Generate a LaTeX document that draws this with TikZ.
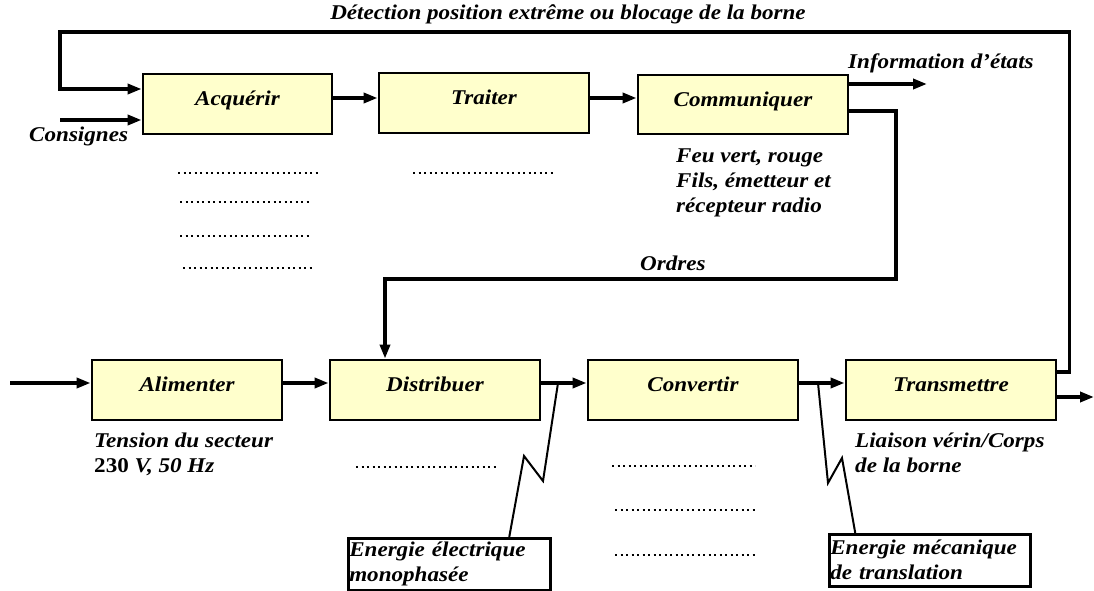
\documentclass[tikz,border=0pt]{standalone}
\usepackage{fontspec}
\setmainfont{Liberation Serif}[FakeStretch=1.1]
\usetikzlibrary{arrows.meta,calc}
\definecolor{boxfill}{HTML}{FFFFCC}
\begin{document}
\begin{tikzpicture}[x=1pt,y=-1pt,
  lbl/.style={font=\fontsize{21}{25}\selectfont\bfseries\itshape, inner sep=0pt},
  fbox/.style={draw, line width=2.8pt, fill=boxfill, minimum height=60pt,
    text height=16.5pt, text depth=13pt, inner sep=0pt,
    font=\fontsize{21}{25}\selectfont\bfseries\itshape},
  tip/.style={-{Triangle[length=14pt,width=10pt]}},
  flow/.style={line width=4pt, tip},
  link/.style={line width=3.4pt},
  zz/.style={line width=2pt},
  dots/.style={line width=2.4pt, dash pattern=on 2.2pt off 3.3pt},
  ebox/.style={draw, line width=2.5pt, fill=white, align=left, inner xsep=1pt,
    inner ysep=0pt, minimum height=52pt, anchor=north west,
    font=\fontsize{21}{25}\selectfont\bfseries\itshape}
]
\useasboundingbox (0,0) rectangle (1094,591);

% function boxes
\node[fbox, minimum width=189pt] (acq) at (237.5,104) {Acquérir};
\node[fbox, minimum width=210pt] (tra) at (484,103) {Traiter};
\node[fbox, minimum width=210pt, minimum height=59pt] (com) at (743,104.5) {Communiquer};
\node[fbox, minimum width=190pt] (ali) at (187,390) {Alimenter};
\node[fbox, minimum width=210pt] (dis) at (435,390) {Distribuer};
\node[fbox, minimum width=210pt] (con) at (693,390) {Convertir};
\node[fbox, minimum width=210pt] (trm) at (951,390) {Transmettre};

% free ends
\coordinate (fbc) at (60,32);
\coordinate (cons) at (60,120);
\coordinate (info) at (927,84);
\coordinate (ordc) at (896,279);
\coordinate (inA) at (10,383);
\coordinate (outT) at (1094,397);
\coordinate (z1) at (558,383);
\coordinate (z2) at (818,383);

% feedback loop
\draw[link, tip] ([yshift=18pt]trm.east) -- ++(12,0) |- (fbc) |- ([yshift=15pt]acq.west);
% consignes
\draw[flow] (cons) -- ([yshift=-16pt]acq.west);
% top chain
\draw[flow] ([yshift=6pt]acq.east) -- ([yshift=5pt]tra.west);
\draw[flow] ([yshift=5pt]tra.east) -- ([yshift=6.5pt]com.west);
\draw[flow] ([yshift=20.5pt]com.east) -- (info);
% ordres
\draw[link, tip] ([yshift=-6.5pt]com.east) -| (ordc) -| ([xshift=-50pt]dis.north);
% bottom chain
\draw[flow] (inA) -- ([yshift=7pt]ali.west);
\draw[flow] ([yshift=7pt]ali.east) -- ([yshift=7pt]dis.west);
\draw[flow] ([yshift=7pt]dis.east) -- ([yshift=7pt]con.west);
\draw[flow] ([yshift=7pt]con.east) -- ([yshift=7pt]trm.west);
\draw[flow] ([yshift=-7pt]trm.east) -- (outT);

% energy boxes
\node[ebox, text width=200pt] (en1) at (347,537) {Energie électrique\\monophasée};
\node[ebox, text width=199pt] (en2) at (828,533) {Energie mécanique\\de translation};
\draw[zz] (z1) -- (543,481) -- (524,456) -- ([xshift=60pt]en1.north);
\draw[zz] (z2) -- (828,483) -- (842,458) -- ([xshift=-74.5pt]en2.north);

% labels
\node[lbl, anchor=base] (det) at (568,20) {Détection position extrême ou blocage de la borne};
\node[lbl, anchor=base west] (inf) at (848,69) {Information d’états};
\node[lbl, anchor=base west] (csg) at (29,142) {Consignes};
\node[lbl, anchor=north west, align=left] (feu) at (676,149) {Feu vert, rouge\\Fils, émetteur et\\récepteur radio};
\node[lbl, anchor=base west] (ord) at (640,270) {Ordres};
\node[lbl, anchor=north west, align=left] (ten) at (94,433) {Tension du secteur\\{\upshape 230} V, 50 Hz};
\node[lbl, anchor=north west, align=left] (lia) at (855,433) {Liaison vérin/Corps\\de la borne};

% dotted placeholders
\draw[dots] (178,173) -- (320,173);
\draw[dots] (180,202) -- (310,202);
\draw[dots] (180,236) -- (310,236);
\draw[dots] (183,268) -- (312,268);
\draw[dots] (413,173) -- (555,173);
\draw[dots] (356,467) -- (496,467);
\draw[dots] (612,466) -- (755,466);
\draw[dots] (615,510) -- (756,510);
\draw[dots] (615,555) -- (756,555);
\end{tikzpicture}
\end{document}
